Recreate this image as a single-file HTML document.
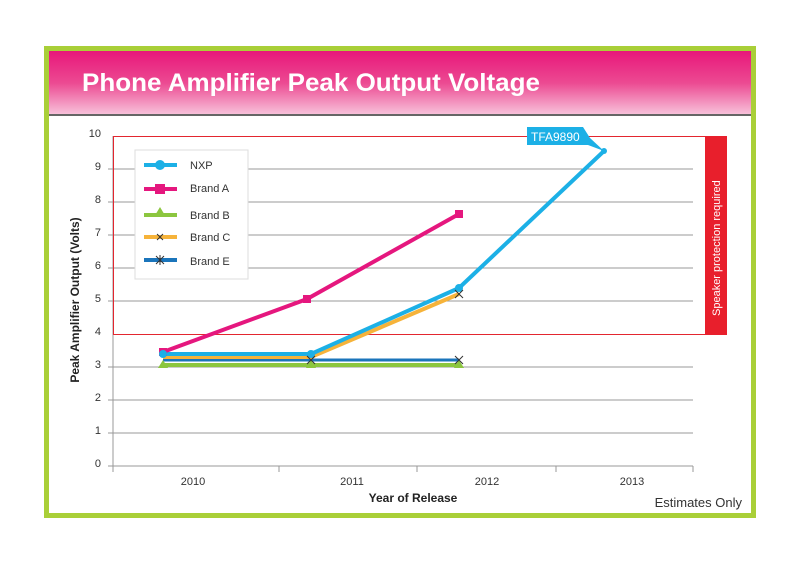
<!DOCTYPE html>
<html><head><style>
body{margin:0;background:#fff;}
svg{display:block;font-family:"Liberation Sans",sans-serif;}
</style></head><body>
<svg width="800" height="564" viewBox="0 0 800 564">
<defs>
<linearGradient id="hg" x1="0" y1="0" x2="0" y2="1">
<stop offset="0" stop-color="#e8177a"/><stop offset="0.5" stop-color="#ec4a92"/><stop offset="1" stop-color="#f8c4dc"/>
</linearGradient>
</defs>
<rect x="0" y="0" width="800" height="564" fill="#fff"/>
<rect x="46.5" y="48.5" width="707" height="467" fill="#fff" stroke="#a9cf38" stroke-width="5"/>
<rect x="49" y="51" width="702" height="64" fill="url(#hg)"/>
<rect x="49" y="114" width="702" height="2" fill="#666"/>
<text x="82" y="91" font-size="25" font-weight="bold" fill="#fff" textLength="458" lengthAdjust="spacingAndGlyphs">Phone Amplifier Peak Output Voltage</text>
<g stroke="#999" stroke-width="1">
<line x1="108" y1="169" x2="693" y2="169"/><line x1="108" y1="202" x2="693" y2="202"/>
<line x1="108" y1="235" x2="693" y2="235"/><line x1="108" y1="268" x2="693" y2="268"/>
<line x1="108" y1="301" x2="693" y2="301"/><line x1="108" y1="367" x2="693" y2="367"/>
<line x1="108" y1="400" x2="693" y2="400"/><line x1="108" y1="433" x2="693" y2="433"/>
<line x1="108" y1="466" x2="693" y2="466"/>
<line x1="113" y1="136" x2="113" y2="472"/>
<line x1="279" y1="466" x2="279" y2="472"/><line x1="417" y1="466" x2="417" y2="472"/>
<line x1="556" y1="466" x2="556" y2="472"/><line x1="693" y1="466" x2="693" y2="472"/>
</g>
<rect x="113.5" y="136.5" width="605" height="198" fill="none" stroke="#e3262f" stroke-width="1"/>
<rect x="705" y="136" width="22" height="199" fill="#e81f2c"/>
<text transform="translate(720,316) rotate(-90)" font-size="11" fill="#fff">Speaker protection required</text>
<g font-size="11" fill="#333" text-anchor="end">
<text x="101" y="137">10</text><text x="101" y="170">9</text><text x="101" y="203">8</text>
<text x="101" y="236">7</text><text x="101" y="269">6</text><text x="101" y="302">5</text>
<text x="101" y="335">4</text><text x="101" y="368">3</text><text x="101" y="401">2</text>
<text x="101" y="434">1</text><text x="101" y="467">0</text>
</g>
<g font-size="11" fill="#333" text-anchor="middle">
<text x="193" y="485">2010</text><text x="352" y="485">2011</text><text x="487" y="485">2012</text><text x="632" y="485">2013</text>
</g>
<text x="413" y="502" font-size="12" font-weight="bold" text-anchor="middle" fill="#222">Year of Release</text>
<text transform="translate(79,300) rotate(-90)" font-size="12" font-weight="bold" text-anchor="middle" fill="#222">Peak Amplifier Output (Volts)</text>
<text x="742" y="507" font-size="13" text-anchor="end" fill="#333">Estimates Only</text>
<polyline points="163,365 311,365 459,365" fill="none" stroke="#8cc63f" stroke-width="4"/>
<polyline points="163,360 311,360 459,360" fill="none" stroke="#1b75bb" stroke-width="3"/>
<polyline points="163,357 311,357 459,294" fill="none" stroke="#f6b33a" stroke-width="4"/>
<polyline points="163,354 311,354 459,288 604,151" fill="none" stroke="#1cb0e6" stroke-width="4"/>
<polyline points="163,352 307,299 459,214" fill="none" stroke="#e5177e" stroke-width="4"/>
<g fill="#e5177e"><rect x="159" y="348" width="8" height="8"/><rect x="303" y="295" width="8" height="8"/><rect x="455" y="210" width="8" height="8"/></g>
<g fill="#1cb0e6"><circle cx="163" cy="354" r="4"/><circle cx="311" cy="354" r="4"/><circle cx="459" cy="288" r="4"/><circle cx="604" cy="151" r="3"/></g>
<g fill="#8cc63f"><path d="M163,360 l5,8 h-10z"/><path d="M311,360 l5,8 h-10z"/><path d="M459,360 l5,8 h-10z"/></g>
<g stroke="#333" stroke-width="1"><path d="M455,290 l8,8 M463,290 l-8,8"/><path d="M455,356 l8,8 M463,356 l-8,8"/><path d="M307,356 l8,8 M315,356 l-8,8"/></g>
<path d="M527,127 H583 L590,138 L604,151 L588,145 H527 Z" fill="#1cb0e6"/>
<text x="531" y="141" font-size="12" fill="#fff">TFA9890</text>
<rect x="135" y="150" width="113" height="129" fill="#fff" stroke="#ddd" stroke-width="1"/>
<line x1="144" y1="165" x2="177" y2="165" stroke="#1cb0e6" stroke-width="4"/><circle cx="160" cy="165" r="5" fill="#1cb0e6"/>
<line x1="144" y1="189" x2="177" y2="189" stroke="#e5177e" stroke-width="4"/><rect x="155" y="184" width="10" height="10" fill="#e5177e"/>
<line x1="144" y1="215" x2="177" y2="215" stroke="#8cc63f" stroke-width="4"/><path d="M160,207 l6,10 h-12z" fill="#8cc63f"/>
<line x1="144" y1="237" x2="177" y2="237" stroke="#f6b33a" stroke-width="4"/><path d="M157,234 l6,6 M163,234 l-6,6" stroke="#333"/>
<line x1="144" y1="260" x2="177" y2="260" stroke="#1b75bb" stroke-width="4"/><path d="M156,256 l8,8 M164,256 l-8,8 M160,255 v10" stroke="#333"/>
<g font-size="11" fill="#333"><text x="190" y="169">NXP</text><text x="190" y="192">Brand A</text><text x="190" y="219">Brand B</text><text x="190" y="241">Brand C</text><text x="190" y="265">Brand E</text></g>
</svg>
</body></html>
